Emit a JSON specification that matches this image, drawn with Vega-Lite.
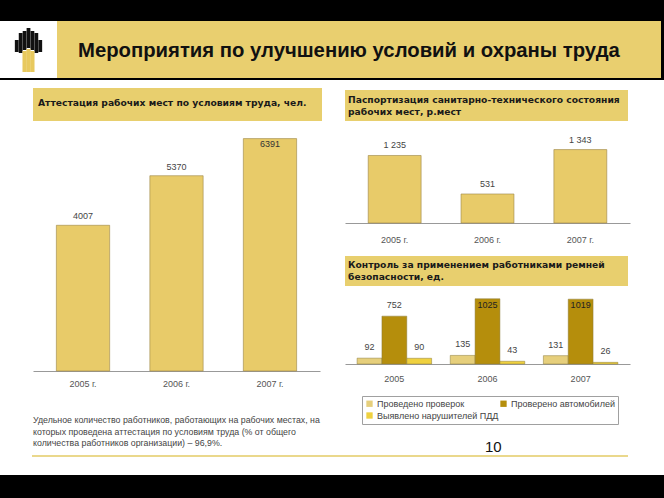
{
  "$schema": "https://vega.github.io/schema/vega-lite/v6.json",
  "background": "white",
  "padding": 0,
  "spacing": 0,
  "resolve": {"scale": {"color": "independent"}, "legend": {"color": "independent"}},
  "config": {
    "view": {"stroke": null},
    "locale": {"number": {"decimal": ",", "thousands": " ", "grouping": [3], "currency": ["", ""]}}
  },
  "vconcat": [
    {"width": 664, "height": 21, "data": {"values": [{}]}, "mark": {"type": "text", "fontSize": 0}, "encoding": {"text": {"value": ""}}, "view": {"fill": "black", "stroke": null}},
    {
      "hconcat": [
        {
          "width": 57, "height": 57,
          "data": {"values": [
            {"s": 1, "lo": 26, "hi": 38, "p": "b"},
            {"s": 2, "lo": 25, "hi": 45, "p": "b"},
            {"s": 3, "lo": 28, "hi": 47, "p": "b"},
            {"s": 4, "lo": 30, "hi": 50, "p": "b"},
            {"s": 5, "lo": 28, "hi": 47, "p": "b"},
            {"s": 6, "lo": 25, "hi": 45, "p": "b"},
            {"s": 7, "lo": 26, "hi": 38, "p": "b"},
            {"s": 3, "lo": 6, "hi": 27, "p": "g"},
            {"s": 4, "lo": 6, "hi": 29, "p": "g"},
            {"s": 5, "lo": 6, "hi": 27, "p": "g"}
          ]},
          "encoding": {
            "x": {"field": "s", "type": "quantitative", "scale": {"domain": [-2, 10]}, "axis": null},
            "y": {"field": "hi", "type": "quantitative", "scale": {"domain": [0, 57]}, "axis": null},
            "y2": {"field": "lo"}
          },
          "layer": [
            {"transform": [{"filter": "datum.p == 'b'"}], "mark": {"type": "bar", "size": 3.8, "color": "#111111"}},
            {"transform": [{"filter": "datum.p == 'g'"}], "mark": {"type": "bar", "size": 4.2, "color": "#E8C95E"}}
          ]
        },
        {
          "width": 604, "height": 57,
          "data": {"values": [{}]}, "mark": {"type": "text", "fontSize": 0}, "encoding": {"text": {"value": ""}},
          "view": {"fill": "#E9CF6F", "stroke": null},
          "title": {"text": "Мероприятия по улучшению условий и охраны труда", "anchor": "start", "frame": "group", "dx": 21, "offset": -40, "font": "Liberation Sans", "fontSize": 20.3, "fontWeight": "bold", "color": "#111111", "limit": 700}
        },
        {"width": 3, "height": 57, "data": {"values": [{}]}, "mark": {"type": "text", "fontSize": 0}, "encoding": {"text": {"value": ""}}, "view": {"fill": "black", "stroke": null}}
      ],
      "spacing": 0
    },
    {"width": 664, "height": 2, "data": {"values": [{}]}, "mark": {"type": "text", "fontSize": 0}, "encoding": {"text": {"value": ""}}, "view": {"fill": "black", "stroke": null}},
    {"width": 1, "height": 8, "data": {"values": [{}]}, "mark": {"type": "text", "fontSize": 0}, "encoding": {"text": {"value": ""}}},
    {
      "resolve": {"scale": {"color": "independent"}, "legend": {"color": "independent"}},
      "hconcat": [
        {"width": 33, "height": 1, "data": {"values": [{}]}, "mark": {"type": "text", "fontSize": 0}, "encoding": {"text": {"value": ""}}},
        {
          "vconcat": [
            {
              "width": 289, "height": 33,
              "data": {"values": [{}]}, "mark": {"type": "text", "fontSize": 0}, "encoding": {"text": {"value": ""}},
              "view": {"fill": "#E8CF6E", "stroke": null},
              "title": {"text": "Аттестация рабочих мест по условиям труда, чел.", "anchor": "start", "frame": "group", "dx": 5, "offset": -20, "font": "DejaVu Sans", "fontSize": 9.2, "fontWeight": "bold", "color": "#1a1a1a", "limit": 400}
            },
            {
              "width": 287, "height": 240,
              "data": {"values": [
                {"year": "2005 г.", "v": 4007},
                {"year": "2006 г.", "v": 5370},
                {"year": "2007 г.", "v": 6391}
              ]},
              "title": {
                "text": ["Удельное количество работников, работающих на рабочих местах, на", "которых проведена аттестация по условиям труда (% от общего", "количества работников организации) – 96,9%."],
                "orient": "bottom", "anchor": "start", "frame": "group", "offset": 28,
                "font": "Liberation Sans", "fontSize": 8.8, "fontWeight": "normal", "color": "#444444", "lineHeight": 11.5, "limit": 400
              },
              "encoding": {
                "x": {"field": "year", "type": "nominal", "sort": null, "scale": {"paddingInner": 0.43, "paddingOuter": 0.25},
                  "axis": {"title": null, "domainColor": "#999999", "ticks": false, "labelFontSize": 9, "labelColor": "#555555", "labelPadding": 8, "labelAngle": 0, "labelFont": "Liberation Sans"}},
                "y": {"field": "v", "type": "quantitative", "scale": {"domain": [0, 6600]}, "axis": null}
              },
              "layer": [
                {"mark": {"type": "bar", "color": "#E8CB69", "stroke": "#9a8546", "strokeWidth": 0.6}},
                {"transform": [{"filter": "datum.v < 6000"}], "mark": {"type": "text", "baseline": "bottom", "dy": -4, "fontSize": 9, "font": "Liberation Sans", "color": "#444444"}, "encoding": {"text": {"field": "v", "type": "quantitative", "format": "d"}}},
                {"transform": [{"filter": "datum.v >= 6000"}], "mark": {"type": "text", "baseline": "top", "dy": 1, "fontSize": 9, "font": "Liberation Sans", "color": "#333333"}, "encoding": {"text": {"field": "v", "type": "quantitative", "format": "d"}}}
              ]
            }
          ],
          "spacing": 10
        },
        {"width": 23, "height": 1, "data": {"values": [{}]}, "mark": {"type": "text", "fontSize": 0}, "encoding": {"text": {"value": ""}}},
        {
          "resolve": {"scale": {"color": "independent"}, "legend": {"color": "independent"}},
          "vconcat": [
            {"width": 1, "height": 2, "data": {"values": [{}]}, "mark": {"type": "text", "fontSize": 0}, "encoding": {"text": {"value": ""}}},
            {
              "width": 283, "height": 31,
              "data": {"values": [{}]}, "mark": {"type": "text", "fontSize": 0}, "encoding": {"text": {"value": ""}},
              "view": {"fill": "#E8CF6E", "stroke": null},
              "title": {"text": ["Паспортизация санитарно-технического состояния", "рабочих мест, р.мест"], "anchor": "start", "frame": "group", "dx": 3, "offset": -27, "font": "DejaVu Sans", "fontSize": 9.2, "fontWeight": "bold", "color": "#1a1a1a", "lineHeight": 12, "limit": 400}
            },
            {"width": 1, "height": 14, "data": {"values": [{}]}, "mark": {"type": "text", "fontSize": 0}, "encoding": {"text": {"value": ""}}},
            {
              "width": 285, "height": 82,
              "data": {"values": [
                {"year": "2005 г.", "v": 1235},
                {"year": "2006 г.", "v": 531},
                {"year": "2007 г.", "v": 1343}
              ]},
              "encoding": {
                "x": {"field": "year", "type": "nominal", "sort": null, "scale": {"paddingInner": 0.43, "paddingOuter": 0.25},
                  "axis": {"title": null, "domainColor": "#999999", "ticks": false, "labelFontSize": 9, "labelColor": "#555555", "labelPadding": 12, "labelAngle": 0, "labelFont": "Liberation Sans"}},
                "y": {"field": "v", "type": "quantitative", "scale": {"domain": [0, 1500]}, "axis": null}
              },
              "layer": [
                {"mark": {"type": "bar", "color": "#E8CB69", "stroke": "#9a8546", "strokeWidth": 0.6}},
                {"mark": {"type": "text", "baseline": "bottom", "dy": -5, "fontSize": 9, "font": "Liberation Sans", "color": "#444444"}, "encoding": {"text": {"field": "v", "type": "quantitative", "format": ",d"}}}
              ]
            },
            {"width": 1, "height": 12, "data": {"values": [{}]}, "mark": {"type": "text", "fontSize": 0}, "encoding": {"text": {"value": ""}}},
            {
              "width": 283, "height": 30,
              "data": {"values": [{}]}, "mark": {"type": "text", "fontSize": 0}, "encoding": {"text": {"value": ""}},
              "view": {"fill": "#E8CF6E", "stroke": null},
              "title": {"text": ["Контроль за применением работниками ремней", "безопасности, ед."], "anchor": "start", "frame": "group", "dx": 3, "offset": -26, "font": "DejaVu Sans", "fontSize": 9.2, "fontWeight": "bold", "color": "#1a1a1a", "lineHeight": 12, "limit": 400}
            },
            {"width": 1, "height": 8, "data": {"values": [{}]}, "mark": {"type": "text", "fontSize": 0}, "encoding": {"text": {"value": ""}}},
            {
              "width": 285, "height": 70,
              "data": {"values": [
                {"year": "2005", "s": "Проведено проверок", "v": 92},
                {"year": "2005", "s": "Проверено автомобилей", "v": 752},
                {"year": "2005", "s": "Выявлено нарушителей ПДД", "v": 90},
                {"year": "2006", "s": "Проведено проверок", "v": 135},
                {"year": "2006", "s": "Проверено автомобилей", "v": 1025},
                {"year": "2006", "s": "Выявлено нарушителей ПДД", "v": 43},
                {"year": "2007", "s": "Проведено проверок", "v": 131},
                {"year": "2007", "s": "Проверено автомобилей", "v": 1019},
                {"year": "2007", "s": "Выявлено нарушителей ПДД", "v": 26}
              ]},
              "title": {"text": "10", "orient": "bottom", "anchor": "start", "frame": "group", "dx": 140, "offset": 15, "font": "Liberation Sans", "fontSize": 15, "fontWeight": "normal", "color": "#111111"},
              "encoding": {
                "x": {"field": "year", "type": "nominal", "sort": null, "scale": {"paddingInner": 0.2, "paddingOuter": 0.13},
                  "axis": {"title": null, "domainColor": "#999999", "ticks": false, "labelFontSize": 9, "labelColor": "#555555", "labelPadding": 10, "labelAngle": 0, "labelFont": "Liberation Sans"}},
                "xOffset": {"field": "s", "type": "nominal", "sort": ["Проведено проверок", "Проверено автомобилей", "Выявлено нарушителей ПДД"], "scale": {"paddingInner": 0, "paddingOuter": 0}},
                "y": {"field": "v", "type": "quantitative", "scale": {"domain": [0, 1100]}, "axis": null}
              },
              "layer": [
                {
                  "mark": {"type": "bar", "stroke": "#8a7a3a", "strokeWidth": 0.5},
                  "encoding": {
                    "color": {"field": "s", "type": "nominal",
                      "scale": {"domain": ["Проведено проверок", "Проверено автомобилей", "Выявлено нарушителей ПДД"], "range": ["#E6CF7C", "#B58E0C", "#EFD13F"]},
                      "legend": {"title": null, "orient": "none", "legendX": 17, "legendY": 102, "direction": "horizontal", "columns": 2, "strokeColor": "#a0a0a0", "fillColor": "white", "padding": 3, "symbolType": "square", "symbolSize": 40, "symbolStrokeWidth": 0, "labelFontSize": 9, "labelColor": "#444444", "labelFont": "Liberation Sans", "columnPadding": 0, "rowPadding": 2, "labelOffset": 3}
                    }
                  }
                },
                {"transform": [{"filter": "datum.v < 1000"}], "mark": {"type": "text", "baseline": "bottom", "dy": -6, "fontSize": 9, "font": "Liberation Sans", "color": "#444444"}, "encoding": {"text": {"field": "v", "type": "quantitative", "format": "d"}}},
                {"transform": [{"filter": "datum.v >= 1000"}], "mark": {"type": "text", "baseline": "top", "dy": 2, "fontSize": 9, "font": "Liberation Sans", "color": "#222222"}, "encoding": {"text": {"field": "v", "type": "quantitative", "format": "d"}}}
              ]
            }
          ],
          "spacing": 0
        }
      ],
      "spacing": 0
    },
    {
      "hconcat": [
        {"width": 32, "height": 2, "data": {"values": [{}]}, "mark": {"type": "text", "fontSize": 0}, "encoding": {"text": {"value": ""}}},
        {"width": 596, "height": 2, "data": {"values": [{}]}, "mark": {"type": "text", "fontSize": 0}, "encoding": {"text": {"value": ""}}, "view": {"fill": "#EAD88C", "stroke": null}}
      ],
      "spacing": 0
    },
    {"width": 1, "height": 18, "data": {"values": [{}]}, "mark": {"type": "text", "fontSize": 0}, "encoding": {"text": {"value": ""}}},
    {"width": 664, "height": 23, "data": {"values": [{}]}, "mark": {"type": "text", "fontSize": 0}, "encoding": {"text": {"value": ""}}, "view": {"fill": "black", "stroke": null}}
  ]
}
